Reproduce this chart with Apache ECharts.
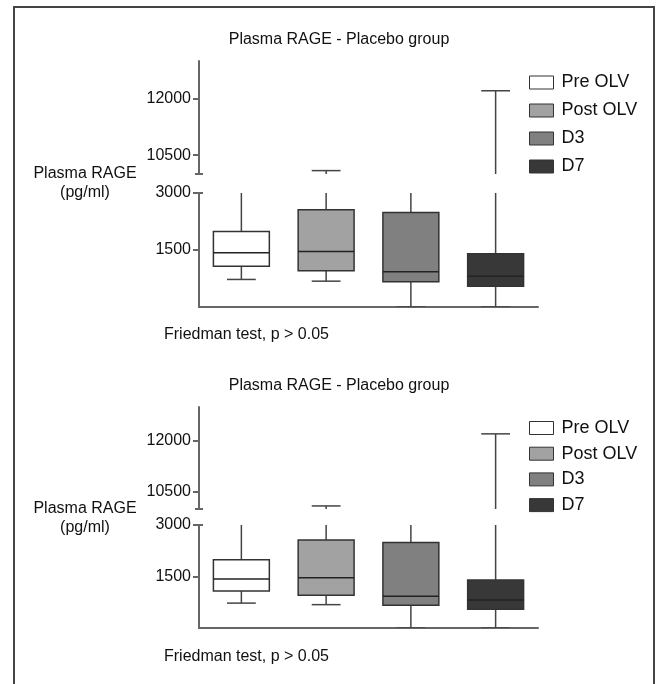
<!DOCTYPE html>
<html>
<head>
<meta charset="utf-8">
<script src="https://cdn.jsdelivr.net/npm/echarts@6/dist/echarts.min.js"></script>
<style>
html,body{margin:0;padding:0;background:#fff;}
#chart{width:660px;height:684px;}
</style>
</head>
<body>
<div id="chart"></div>
<script>
// ---- data ----
const categories = ['Pre OLV', 'Post OLV', 'D3', 'D7'];
// [min, Q1, median, Q3, max]  (max of Pre OLV and D3 lies inside the axis break)
const preOLV  = [725, 1075, 1430, 1985, 4500];
const postOLV = [680, 955, 1460, 2560, 10090];
const d3      = [0, 665, 928, 2490, 5000];
const d7      = [0, 548, 812, 1400, 12210];
const seriesValues = [preOLV, postOLV, d3, d7];
const upperTicks = [10500, 12000];
const lowerTicks = [1500, 3000];
const upperRange = [10000, 13000];
const lowerRange = [0, 3000];
const titleText = 'Plasma RAGE - Placebo group';
const yTitle = 'Plasma RAGE\n(pg/ml)';
const noteText = 'Friedman test, p > 0.05';

// ---- styles ----
const fills = ['#ffffff', '#a2a2a2', '#808080', '#383838'];
const FONT = "'Liberation Sans', Arial, sans-serif";
const AXIS_COLOR = '#666666';

const panels = [
  { upTop: 61, upH: 113, loTop: 193, loH: 114, titleY: 40, yLab: 183, noteY: 335, legTop: 68.5, legGap: 10 },
  { upTop: 407, upH: 102, loTop: 525, loH: 103, titleY: 386, yLab: 518, noteY: 657, legTop: 414, legGap: 7.7 }
];
const GL = 199, GW = 339;

function renderItem(params, api) {
  const x = api.value(0);
  const lo = api.coord([x, api.value(1)]);
  const q1 = api.coord([x, api.value(2)]);
  const med = api.coord([x, api.value(3)]);
  const q3 = api.coord([x, api.value(4)]);
  const hi = api.coord([x, api.value(5)]);
  const band = api.size([1, 0])[0];
  const bw = band * 0.66, cw = band * 0.34;
  const cx = lo[0];
  const wStyle = { stroke: '#444444', lineWidth: 1.5 };
  return {
    type: 'group',
    children: [
      { type: 'line', shape: { x1: cx, y1: hi[1], x2: cx, y2: q3[1] }, style: wStyle },
      { type: 'line', shape: { x1: cx, y1: q1[1], x2: cx, y2: lo[1] }, style: wStyle },
      { type: 'line', shape: { x1: cx - cw / 2, y1: hi[1], x2: cx + cw / 2, y2: hi[1] }, style: wStyle },
      { type: 'line', shape: { x1: cx - cw / 2, y1: lo[1], x2: cx + cw / 2, y2: lo[1] }, style: wStyle },
      { type: 'rect', shape: { x: cx - bw / 2, y: q3[1], width: bw, height: q1[1] - q3[1] },
        style: { fill: api.visual('color'), stroke: '#333333', lineWidth: 1.5 } },
      { type: 'line', shape: { x1: cx - bw / 2, y1: med[1], x2: cx + bw / 2, y2: med[1] },
        style: { stroke: '#222222', lineWidth: 1.5 } }
    ]
  };
}

const grid = [], xAxis = [], yAxis = [], series = [], legend = [], graphic = [];

graphic.push({ type: 'rect', shape: { x: 14, y: 7, width: 640, height: 720 },
  style: { fill: 'none', stroke: '#444444', lineWidth: 2 }, z: 0 });

panels.forEach((p, pi) => {
  const parts = [
    { top: p.upTop, h: p.upH, range: upperRange, ticks: upperTicks, showX: false },
    { top: p.loTop, h: p.loH, range: lowerRange, ticks: lowerTicks, showX: true }
  ];
  parts.forEach((part) => {
    const gi = grid.length;
    grid.push({ left: GL, top: part.top, width: GW, height: part.h });
    xAxis.push({
      type: 'category', data: categories, gridIndex: gi, show: part.showX,
      axisLine: { show: true, lineStyle: { color: AXIS_COLOR, width: 2 } },
      axisTick: { show: false }, axisLabel: { show: false }, splitLine: { show: false }
    });
    yAxis.push({
      type: 'value', gridIndex: gi, min: part.range[0], max: part.range[1],
      axisLine: { show: true, lineStyle: { color: AXIS_COLOR, width: 2 } },
      axisTick: { show: true, length: 6, lineStyle: { color: AXIS_COLOR, width: 2 }, customValues: part.ticks },
      axisLabel: { show: true, fontSize: 16, color: '#111', fontFamily: FONT, margin: 8,
        customValues: part.ticks, formatter: (v) => String(v) },
      splitLine: { show: false }
    });
    seriesValues.forEach((vals, ci) => {
      series.push({
        type: 'custom', name: categories[ci], xAxisIndex: gi, yAxisIndex: gi,
        clip: true, renderItem: renderItem,
        itemStyle: { color: fills[ci] },
        encode: { x: 0, y: [1, 2, 3, 4, 5] },
        data: [[ci].concat(vals)],
        silent: true
      });
    });
  });

  legend.push({
    data: categories, orient: 'vertical', left: 524, top: p.legTop,
    itemWidth: 24, itemHeight: 13, itemGap: p.legGap, icon: 'rect',
    itemStyle: { borderColor: '#333', borderWidth: 1 },
    textStyle: { fontSize: 18, color: '#111', fontFamily: FONT, lineHeight: 18, padding: [0, 0, 0, 3] },
    selectedMode: false
  });

  graphic.push({ type: 'text', x: 339, y: p.titleY, style: { text: titleText, fontSize: 16, fontFamily: FONT,
    fill: '#111', align: 'center', verticalAlign: 'middle' } });
  graphic.push({ type: 'text', x: 85, y: p.yLab, style: { text: yTitle, fontSize: 16, fontFamily: FONT,
    fill: '#111', align: 'center', verticalAlign: 'middle', lineHeight: 19 } });
  graphic.push({ type: 'text', x: 164, y: p.noteY, style: { text: noteText, fontSize: 16, fontFamily: FONT,
    fill: '#111', align: 'left', verticalAlign: 'middle' } });
  // axis break caps
  const upBottom = p.upTop + p.upH;
  graphic.push({ type: 'line', shape: { x1: GL - 4, y1: upBottom, x2: GL + 4, y2: upBottom },
    style: { stroke: AXIS_COLOR, lineWidth: 2 } });
  graphic.push({ type: 'line', shape: { x1: GL, y1: p.loTop, x2: GL + 4, y2: p.loTop },
    style: { stroke: AXIS_COLOR, lineWidth: 2 } });
});

const chart = echarts.init(document.getElementById('chart'), null, { renderer: 'canvas' });
chart.setOption({
  animation: false,
  backgroundColor: '#ffffff',
  grid, xAxis, yAxis, series, legend, graphic
});
</script>
</body>
</html>
